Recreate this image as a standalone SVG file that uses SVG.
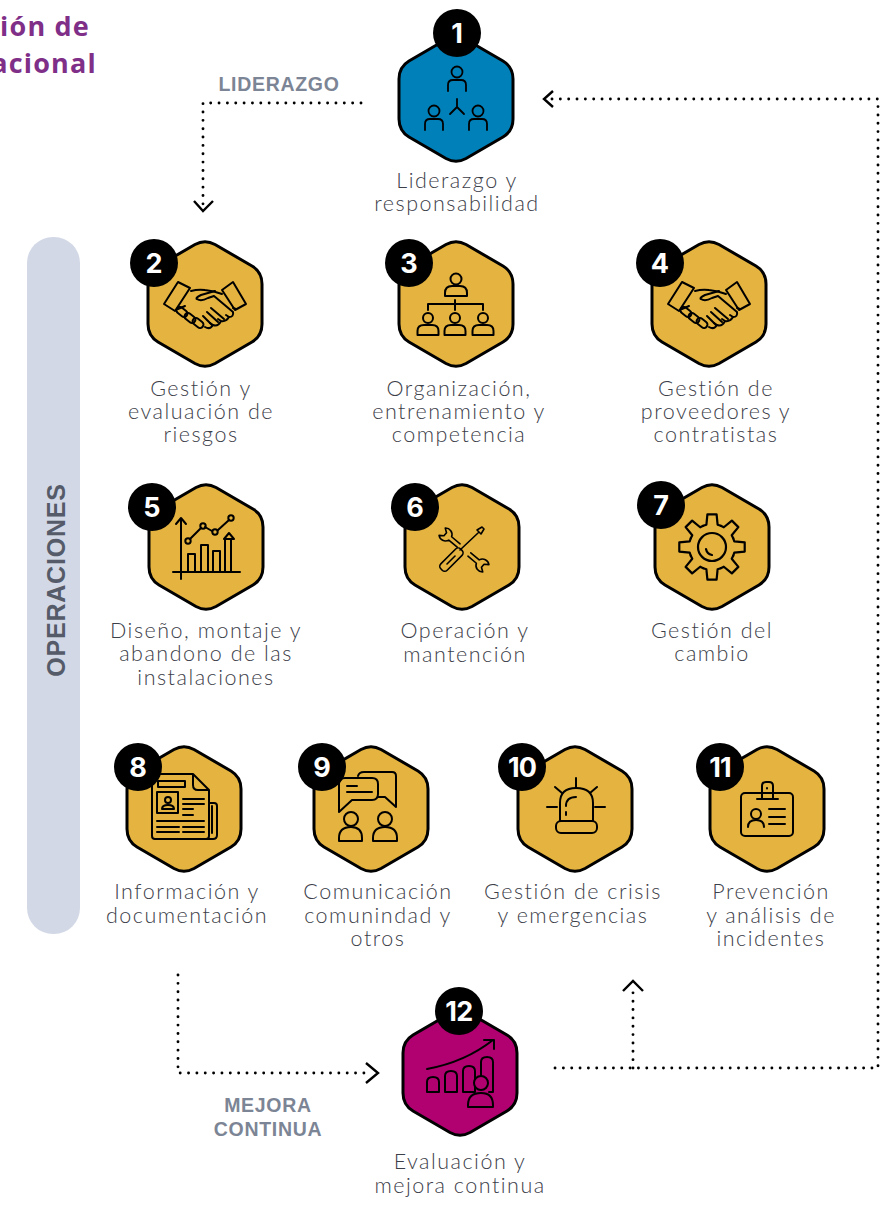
<svg xmlns="http://www.w3.org/2000/svg" width="893" height="1207" viewBox="0 0 893 1207">
<style>
.lab{font-family:"Lato","Liberation Sans",sans-serif;font-weight:300;font-size:21.5px;letter-spacing:1.5px;fill:#3c4049;text-anchor:middle}
.tag{font-family:"Liberation Sans",sans-serif;font-weight:700;font-size:19.5px;letter-spacing:.7px;fill:#7c8595;text-anchor:middle}
.num{font-family:"Inter","Liberation Sans",sans-serif;font-weight:700;font-size:27px;fill:#fff;text-anchor:middle}
.ttl{font-family:"Open Sans","Liberation Sans",sans-serif;font-weight:700;font-size:27px;letter-spacing:1.2px;fill:#7f2f87;text-anchor:end}
.hx{stroke:#000;stroke-width:3;stroke-linejoin:round}
.y{fill:#e5b440}.b{fill:#0080b9}.m{fill:#b1006f}
.ic{fill:none;stroke:#000;stroke-width:2;stroke-linecap:round;stroke-linejoin:round}
.dot{fill:none;stroke:#000;stroke-width:2.9;stroke-linecap:round;stroke-dasharray:0 8.35}
.chev{fill:none;stroke:#000;stroke-width:2.4;stroke-linecap:butt;stroke-linejoin:miter}
</style>
<defs>
<path id="hex" class="hx" d="M-10,-59.5Q0,-65 10,-59.5L47,-38Q57,-32 57,-20V20Q57,32 47,38L10,59.5Q0,65 -10,59.5L-47,38Q-57,32 -57,20V-20Q-57,-32 -47,-38Z"/>
<circle id="bd" r="24" fill="#000"/>
<g id="shake">
<path d="M178,282L190,288L175,311L164,304Z"/>
<path d="M222,290L233,282L246,304L235,310Z"/>
<path d="M191,291Q198,289 205,290Q214,291 222,294"/>
<path d="M215,291L201,295Q195,298 197,299Q201,302 208,298L214,296L233,312Q234,317 229,317L226,315"/>
<path d="M233,308L236,309M178,309L185,306"/>
<path d="M229,317Q226,322 221,321L218,319M221,321Q218,327 213,325L210,323M213,325Q210,330 205,327"/>
<path d="M211,308L224,319M207,312L218,322M203,316L212,325"/>
<rect x="-6" y="-3.4" width="12" height="6.8" rx="3.4" transform="translate(182,312) rotate(38)"/>
<rect x="-6" y="-3.4" width="12" height="6.8" rx="3.4" transform="translate(190,318) rotate(38)"/>
<rect x="-6" y="-3.4" width="12" height="6.8" rx="3.4" transform="translate(198,323) rotate(38)"/>
</g>
<path id="tooth" d="M-8.8,-21.2L-5.6,-22.3L-4.6,-32.7H4.6L5.6,-22.3L8.8,-21.2"/>
<g id="small">
<circle cx="0" cy="0" r="5"/>
<path d="M-10.5,17V13Q-10.5,7 -4,7H4Q10.5,7 10.5,13V17Z"/>
</g>
<g id="lead">
<circle cx="0" cy="0" r="5.5"/>
<path d="M-9,19V13Q-9,8 -4,8H4Q9,8 9,13V19"/>
</g>
<path id="jaw" d="M7,2.2H18A6.5,6.5 0 0 0 28.5,4.8L24.5,2V-2L28.5,-4.8A6.5,6.5 0 0 0 18,-2.2H7"/>
</defs>
<rect width="893" height="1207" fill="#fff"/>
<g id="titulo">
<text class="ttl" x="90" y="36">ión de</text>
<text class="ttl" x="97" y="73">acional</text>
</g>
<g id="operaciones">
<rect x="27" y="237" width="53" height="697" rx="26" fill="#d2d8e6"/>
<text transform="translate(65,580) rotate(-90)" font-family="Liberation Sans, sans-serif" font-weight="700" font-size="25" letter-spacing="0.8" fill="#555b69" text-anchor="middle">OPERACIONES</text>
</g>
<g id="connectors">
<path class="dot" d="M361,103H203V205"/>
<path class="chev" d="M194,201L203,211L213,201"/>
<path class="dot" style="stroke-dasharray:0 8.34" d="M552,99H878V1068H554"/>
<path class="chev" d="M553,91L544,99L553,107"/>
<path class="dot" d="M633,1068V985"/>
<path class="chev" d="M623,991L633,981L643,991"/>
<path class="dot" d="M178,975V1073H372"/>
<path class="chev" d="M366,1063L378,1073L366,1083"/>
<text class="tag" x="279" y="91">LIDERAZGO</text>
<text class="tag" x="268" y="1112">MEJORA</text>
<text class="tag" x="268" y="1136">CONTINUA</text>
</g>
<g id="n1">
<use href="#hex" class="b" x="456" y="99"/>
<g class="ic" style="stroke-width:1.8"><use href="#lead" x="457" y="72"/><use href="#lead" x="434" y="111"/><use href="#lead" x="478" y="111"/><path d="M457,99V107M457,107L450,114M457,107L464,114"/></g>
<use href="#bd" x="457" y="33"/><text class="num" x="457" y="43">1</text>
<text class="lab" x="457" y="188">Liderazgo y</text><text class="lab" x="457" y="211">responsabilidad</text>
</g>
<g id="n2">
<use href="#hex" class="y" x="205" y="304"/>
<use href="#shake" class="ic"/>
<use href="#bd" x="154" y="263"/><text class="num" x="154" y="273">2</text>
<text class="lab" x="201" y="396">Gestión y</text><text class="lab" x="201" y="419">evaluación de</text><text class="lab" x="201" y="442">riesgos</text>
</g>
<g id="n3">
<use href="#hex" class="y" x="456" y="304"/>
<g class="ic"><circle cx="456" cy="279" r="5.5"/><path d="M445,296V293Q445,286 452,286H460Q467,286 467,293V296Z"/><path d="M428,310V304H483V310M455,300V310"/><use href="#small" x="428" y="318"/><use href="#small" x="455" y="318"/><use href="#small" x="483" y="318"/></g>
<use href="#bd" x="409" y="263"/><text class="num" x="409" y="273">3</text>
<text class="lab" x="459" y="396">Organización,</text><text class="lab" x="459" y="419">entrenamiento y</text><text class="lab" x="459" y="442">competencia</text>
</g>
<g id="n4">
<use href="#hex" class="y" x="709" y="304"/>
<use href="#shake" class="ic" x="504"/>
<use href="#bd" x="660" y="263"/><text class="num" x="660" y="273">4</text>
<text class="lab" x="716" y="396">Gestión de</text><text class="lab" x="716" y="419">proveedores y</text><text class="lab" x="716" y="442">contratistas</text>
</g>
<g id="n5">
<use href="#hex" class="y" x="206" y="547"/>
<g class="ic"><path d="M181,579V519M176,524L181,518L186,524M173,572H240M188,572V554H195V572M201,572V545H208V572M213,572V551H220V572M225,572V539H231V572M224,539L229,533L234,539Z"/><path d="M190,539L201,528M205,527L212,531M218,530L229,520"/><circle cx="188" cy="541" r="2.7"/><circle cx="203" cy="526" r="2.7"/><circle cx="215" cy="532" r="2.7"/><circle cx="231" cy="518" r="2.7"/></g>
<use href="#bd" x="152" y="507"/><text class="num" x="152" y="517">5</text>
<text class="lab" x="206" y="638">Diseño, montaje y</text><text class="lab" x="206" y="661">abandono de las</text><text class="lab" x="206" y="685">instalaciones</text>
</g>
<g id="n6">
<use href="#hex" class="y" x="462" y="547"/>
<g class="ic" style="stroke-width:1.6">
<g transform="translate(464,550) rotate(40)"><use href="#jaw"/><use href="#jaw" transform="rotate(180)"/></g>
<rect x="-4.5" y="-16" width="9" height="28" rx="3.5" transform="translate(450,561) rotate(45)"/>
<path d="M447,564L455,556"/>
<path d="M460,550L478,533M477,530L482,527L484,529L481,534Z"/>
</g>
<use href="#bd" x="415" y="507"/><text class="num" x="415" y="517">6</text>
<text class="lab" x="465" y="638">Operación y</text><text class="lab" x="465" y="662">mantención</text>
</g>
<g id="n7">
<use href="#hex" class="y" x="712" y="547"/>
<g class="ic" transform="translate(712,547)" style="stroke-width:2.2">
<use href="#tooth"/><use href="#tooth" transform="rotate(45)"/><use href="#tooth" transform="rotate(90)"/><use href="#tooth" transform="rotate(135)"/><use href="#tooth" transform="rotate(180)"/><use href="#tooth" transform="rotate(225)"/><use href="#tooth" transform="rotate(270)"/><use href="#tooth" transform="rotate(315)"/>
<circle r="14"/><path d="M-6,2Q-5,7 0,8"/>
</g>
<use href="#bd" x="661" y="505"/><text class="num" x="661" y="515">7</text>
<text class="lab" x="712" y="638">Gestión del</text><text class="lab" x="712" y="661">cambio</text>
</g>
<g id="n8">
<use href="#hex" class="y" x="184" y="809"/>
<g class="ic"><path d="M193,774H155Q152,774 152,777V836Q152,839 155,839H206Q209,839 209,836V790ZM193,774V785Q193,790 198,790H209M209,803H214Q217,803 217,806V835Q217,839 213,839H206M212,806V833"/><rect x="158" y="781" width="27" height="6"/><rect x="157" y="792" width="21" height="21"/><circle cx="168" cy="800" r="3"/><path d="M162,809Q162,805 168,805Q174,805 174,809Z"/><path d="M183,799H204M183,804H204M183,809H193M183,815H193M157,821H204M157,827H179M183,827H204M157,832H179M183,832H204"/></g>
<use href="#bd" x="138" y="767"/><text class="num" x="138" y="777">8</text>
<text class="lab" x="187" y="899">Información y</text><text class="lab" x="187" y="923">documentación</text>
</g>
<g id="n9">
<use href="#hex" class="y" x="371" y="809"/>
<g class="ic"><path d="M339,812V784Q339,778 345,778H372Q378,778 378,784V794Q378,800 372,800H352Z"/><path d="M358,776Q359,772 364,772H392Q396,772 396,776V807L385,797H378"/><path d="M347,786H357M347,792H372"/><circle cx="351" cy="819" r="7"/><path d="M339,841V838Q339,827 351,827Q362,827 362,838V841Z"/><circle cx="385" cy="819" r="7"/><path d="M373,841V838Q373,827 385,827Q397,827 397,838V841Z"/></g>
<use href="#bd" x="322" y="767"/><text class="num" x="322" y="777">9</text>
<text class="lab" x="378" y="899">Comunicación</text><text class="lab" x="378" y="923">comunindad y</text><text class="lab" x="378" y="946">otros</text>
</g>
<g id="n10">
<use href="#hex" class="y" x="575" y="809"/>
<g class="ic"><rect x="556" y="821" width="41" height="12" rx="5"/><path d="M560,821V803Q560,788 576,788Q593,788 593,803V821"/><path d="M566,815V812M566,806Q566,797 576,797"/><path d="M576,778V788M555,787L562,793M597,787L590,793M547,807H557M595,807H605"/></g>
<use href="#bd" x="522" y="767"/><text class="num" x="522" y="777" letter-spacing="-1">10</text>
<text class="lab" x="573" y="899">Gestión de crisis</text><text class="lab" x="573" y="923">y emergencias</text>
</g>
<g id="n11">
<use href="#hex" class="y" x="767" y="809"/>
<g class="ic"><rect x="741" y="793" width="52" height="43" rx="4"/><path d="M762,798V786Q762,782 766,782H769Q773,782 773,786V798M757,799H778"/><path d="M767,788V788.5"/><circle cx="756" cy="814" r="5"/><path d="M748,827Q748,820 756,820Q764,820 764,827"/><path d="M769,809H785M769,817H785M769,824H785"/></g>
<use href="#bd" x="720" y="767"/><text class="num" x="720" y="777" letter-spacing="-1">11</text>
<text class="lab" x="771" y="899">Prevención</text><text class="lab" x="771" y="923">y análisis de</text><text class="lab" x="771" y="946">incidentes</text>
</g>
<g id="n12">
<use href="#hex" class="m" x="460" y="1073"/>
<g class="ic"><path d="M427,1069Q465,1062 493,1040M484,1040H494V1049"/><path d="M427,1092V1082Q427,1077 433,1077Q439,1077 439,1082V1092ZM445,1092V1076Q445,1071 451,1071Q457,1071 457,1076V1092ZM463,1092V1071Q463,1066 469,1066Q475,1066 475,1071V1092ZM481,1076V1062Q481,1057 487,1057Q493,1057 493,1062V1092H489"/><circle cx="481" cy="1083" r="7" class="m"/><path class="m" d="M468,1107V1105Q468,1093 481,1093Q493,1093 493,1105V1107Z"/></g>
<use href="#bd" x="459" y="1011"/><text class="num" x="459" y="1021" letter-spacing="-0.5">12</text>
<text class="lab" x="460" y="1169">Evaluación y</text><text class="lab" x="460" y="1193">mejora continua</text>
</g>
</svg>
